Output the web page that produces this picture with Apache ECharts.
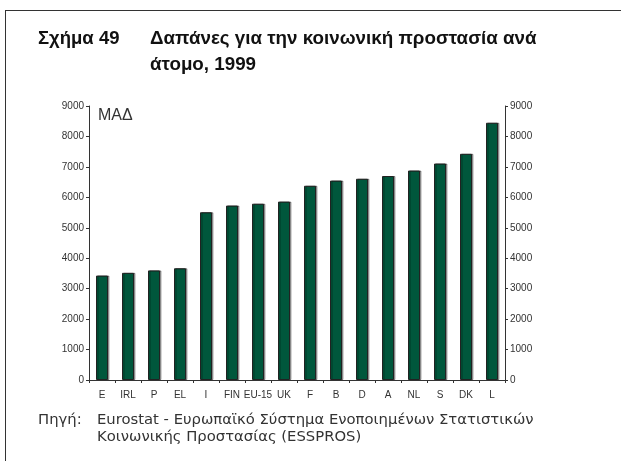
<!DOCTYPE html>
<html>
<head>
<meta charset="utf-8">
<script src="https://cdn.jsdelivr.net/npm/echarts@6/dist/echarts.min.js"></script>
<style>
  html, body { margin: 0; padding: 0; background: #fff; }
  #chart { width: 621px; height: 461px; }
</style>
</head>
<body>
<div id="chart"></div>
<script>
// Social protection expenditure per head, 1999 (PPS)
const countries = ['E', 'IRL', 'P', 'EL', 'I', 'FIN', 'EU-15', 'UK', 'F', 'B', 'D', 'A', 'NL', 'S', 'DK', 'L'];
const spending = [3430, 3520, 3600, 3670, 5510, 5730, 5790, 5860, 6380, 6550, 6610, 6700, 6880, 7110, 7430, 8450];
const yTicks = [0, 1000, 2000, 3000, 4000, 5000, 6000, 7000, 8000, 9000];

const chart = echarts.init(document.getElementById('chart'), null, { renderer: 'canvas' });

const sans = '"Liberation Sans", Arial, sans-serif';
const wide = '"DejaVu Sans", sans-serif';
const axisText = { color: '#333', fontSize: 10, fontFamily: sans };
const yAxisBase = {
  type: 'value',
  min: yTicks[0],
  max: yTicks[yTicks.length - 1],
  interval: yTicks[1] - yTicks[0],
  splitLine: { show: false },
  axisLine: { show: true, lineStyle: { color: '#333', width: 1 } },
  axisTick: { show: true, length: 3, lineStyle: { color: '#333' } },
  axisLabel: Object.assign({ margin: 5, formatter: v => String(v) }, axisText)
};

chart.setOption({
  animation: false,
  backgroundColor: '#fff',
  grid: { left: 89, right: 116, top: 106, bottom: 81, containLabel: false },
  xAxis: {
    type: 'category',
    data: countries,
    axisLine: { lineStyle: { color: '#333', width: 1 } },
    axisTick: { show: true, alignWithLabel: false, length: 3, lineStyle: { color: '#333' } },
    axisLabel: Object.assign({ interval: 0, margin: 10 }, axisText)
  },
  yAxis: [
    Object.assign({ position: 'left' }, yAxisBase),
    Object.assign({ position: 'right' }, yAxisBase)
  ],
  series: [{
    type: 'bar',
    data: spending,
    barWidth: 12,
    itemStyle: {
      color: '#00573c',
      borderColor: '#222',
      borderWidth: 1,
      shadowColor: 'rgba(0,0,0,0.35)',
      shadowOffsetX: 1.5,
      shadowOffsetY: 0,
      shadowBlur: 0
    }
  }],
  graphic: [
    // page frame (top and left rules)
    { type: 'line', shape: { x1: 5, y1: 10.5, x2: 621, y2: 10.5 }, style: { stroke: '#333', lineWidth: 1 } },
    { type: 'line', shape: { x1: 5.5, y1: 10, x2: 5.5, y2: 461 }, style: { stroke: '#333', lineWidth: 1 } },
    // title
    { type: 'text', x: 38, y: 39, style: { text: 'Σχήμα 49', verticalAlign: 'middle', fill: '#111', font: 'bold 18.5px ' + sans } },
    { type: 'text', x: 150, y: 39, style: { text: 'Δαπάνες για την κοινωνική προστασία ανά', verticalAlign: 'middle', fill: '#111', font: 'bold 18.8px ' + sans } },
    { type: 'text', x: 150, y: 65, style: { text: 'άτομο, 1999', verticalAlign: 'middle', fill: '#111', font: 'bold 18.8px ' + sans } },
    // unit
    { type: 'text', x: 98, y: 116, style: { text: 'ΜΑΔ', verticalAlign: 'middle', fill: '#333', font: '16px ' + sans } },
    // source
    { type: 'text', x: 38, y: 420, style: { text: 'Πηγή:', verticalAlign: 'middle', fill: '#333', font: '14.8px ' + wide } },
    { type: 'text', x: 97, y: 420, style: { text: 'Eurostat - Ευρωπαϊκό Σύστημα Ενοποιημένων Στατιστικών', verticalAlign: 'middle', fill: '#333', font: '14.8px ' + wide } },
    { type: 'text', x: 97, y: 437, style: { text: 'Κοινωνικής Προστασίας (ESSPROS)', verticalAlign: 'middle', fill: '#333', font: '14.8px ' + wide } }
  ]
});
</script>
</body>
</html>
